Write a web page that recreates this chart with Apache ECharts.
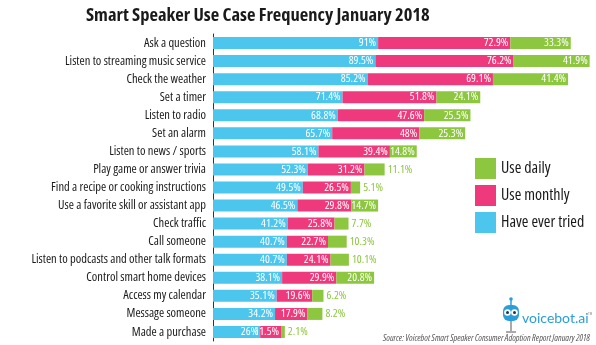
<!DOCTYPE html>
<html>
<head>
<meta charset="utf-8">
<style>
  html, body { margin: 0; padding: 0; background: #fff; }
  #chart { width: 596px; height: 345px; }
</style>
<script src="https://cdn.jsdelivr.net/npm/echarts@6/dist/echarts.min.js"></script>
</head>
<body>
<div id="chart"></div>
<script>
const categories = [
  'Ask a question',
  'Listen to streaming music service',
  'Check the weather',
  'Set a timer',
  'Listen to radio',
  'Set an alarm',
  'Listen to news / sports',
  'Play game or answer trivia',
  'Find a recipe or cooking instructions',
  'Use a favorite skill or assistant app',
  'Check traffic',
  'Call someone',
  'Listen to podcasts and other talk formats',
  'Control smart home devices',
  'Access my calendar',
  'Message someone',
  'Made a purchase'
];
const everTried = [91, 89.5, 85.2, 71.4, 68.8, 65.7, 58.1, 52.3, 49.5, 46.5, 41.2, 40.7, 40.7, 38.1, 35.1, 34.2, 26];
const monthly   = [72.9, 76.2, 69.1, 51.8, 47.6, 48, 39.4, 31.2, 26.5, 29.8, 25.8, 22.7, 24.1, 29.9, 19.6, 17.9, 11.5];
const daily     = [33.3, 41.9, 41.4, 24.1, 25.5, 25.3, 14.8, 11.1, 5.1, 14.7, 7.7, 10.3, 10.1, 20.8, 6.2, 8.2, 2.1];
const legendItems = ['Use daily', 'Use monthly', 'Have ever tried'];

// Condensed face: the width keyword rides along in the weight slot of the font shorthand
const FONT = "'Open Sans', sans-serif";
const COND = 'condensed';
const COND_BOLD = 'bold condensed';
const BLUE = '#4cc6ed', PINK = '#ee3a7c', GREEN = '#8dc63f';

const insideLabel = {
  show: true, position: 'insideRight', distance: 2,
  color: '#fff', fontFamily: FONT, fontWeight: COND, fontSize: 11.5,
  formatter: '{c}%'
};

// narrow daily segments carry their label outside the bar, in green
const dailyData = daily.map(v => v >= 14 ? { value: v } : {
  value: v,
  label: { position: 'right', distance: 3, color: GREEN }
});

const chart = echarts.init(document.getElementById('chart'));
chart.setOption({
  animation: false,
  title: {
    text: 'Smart Speaker Use Case Frequency January 2018',
    left: 81, top: 1,
    textStyle: { fontFamily: FONT, fontWeight: COND_BOLD, fontSize: 18.5, color: '#1a1a1a' }
  },
  legend: {
    orient: 'vertical', left: 470, top: 153,
    itemWidth: 21, itemHeight: 21, itemGap: 6,
    icon: 'rect',
    data: legendItems,
    textStyle: { fontFamily: FONT, fontWeight: COND, fontSize: 16, color: '#1a1a1a' }
  },
  grid: { left: 213, top: 34, width: 381, height: 307, containLabel: false },
  xAxis: { type: 'value', min: 0, max: 210, show: false },
  yAxis: {
    type: 'category', data: categories, inverse: true,
    axisLine: { show: true, lineStyle: { color: '#333', width: 1 } },
    axisTick: { show: false },
    axisLabel: { interval: 0, margin: 7, color: '#1a1a1a', fontFamily: FONT, fontWeight: COND, fontSize: 12.5 }
  },
  series: [
    { name: 'Have ever tried', type: 'bar', stack: 'all', data: everTried, barWidth: 12,
      itemStyle: { color: BLUE }, label: insideLabel },
    { name: 'Use monthly', type: 'bar', stack: 'all', data: monthly, barWidth: 12,
      itemStyle: { color: PINK }, label: insideLabel },
    { name: 'Use daily', type: 'bar', stack: 'all', data: dailyData, barWidth: 12,
      itemStyle: { color: GREEN }, label: insideLabel }
  ],
  graphic: [
    // robot mascot
    { type: 'line', shape: { x1: 511, y1: 306, x2: 511, y2: 300 }, style: { stroke: '#2b9ed8', lineWidth: 1.5 } },
    { type: 'circle', shape: { cx: 511, cy: 299, r: 1.8 }, style: { fill: '#2b9ed8' } },
    { type: 'rect', shape: { x: 503, y: 305, width: 16, height: 16, r: 6 }, style: { fill: '#2b9ed8' } },
    { type: 'circle', shape: { cx: 507.5, cy: 312.5, r: 3.3 }, style: { fill: '#fff' } },
    { type: 'circle', shape: { cx: 514.5, cy: 312.5, r: 3.3 }, style: { fill: '#fff' } },
    { type: 'circle', shape: { cx: 507.5, cy: 312.5, r: 1.5 }, style: { fill: '#1b3550' } },
    { type: 'circle', shape: { cx: 514.5, cy: 312.5, r: 1.5 }, style: { fill: '#1b3550' } },
    { type: 'line', shape: { x1: 511, y1: 321, x2: 511, y2: 331 }, style: { stroke: '#555', lineWidth: 1 } },
    { type: 'line', shape: { x1: 506, y1: 332, x2: 516, y2: 332 }, style: { stroke: '#555', lineWidth: 1 } },
    { type: 'text', left: 522, top: 311,
      style: { text: 'voicebot.ai', fill: '#2b9ed8', font: "14px 'Lato', sans-serif" } },
    { type: 'text', left: 588, top: 313,
      style: { text: 'TM', fill: '#888', font: "3px sans-serif" } },
    { type: 'text', right: 6, top: 334,
      style: { text: 'Source: Voicebot Smart Speaker Consumer Adoption Report January 2018',
        fill: '#555', font: "italic condensed 9px 'Open Sans', sans-serif" } }
  ]
});
</script>
</body>
</html>
